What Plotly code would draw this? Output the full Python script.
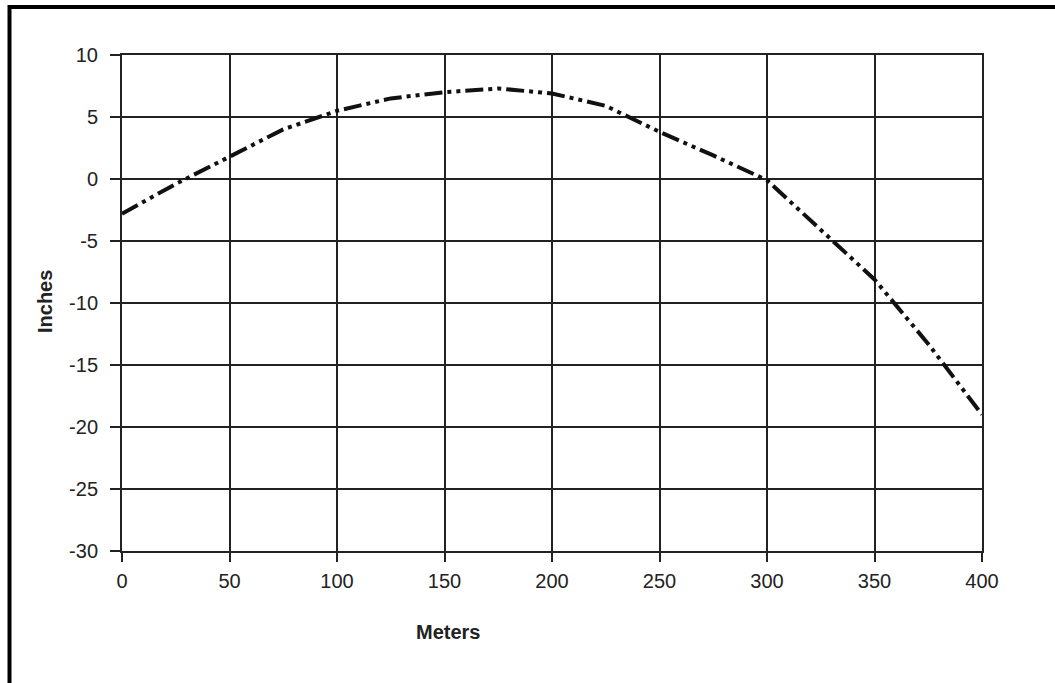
import plotly.graph_objects as go

# Trajectory data
meters = [0, 25, 50, 75, 100, 125, 150, 175, 200, 225, 250, 275, 300, 325, 350, 375, 400]
inches = [-2.8, -0.4, 1.8, 4.0, 5.5, 6.5, 7.0, 7.3, 6.9, 5.9, 3.8, 1.9, -0.1, -4.1, -8.1, -13.3, -19.0]

x_ticks = [0, 50, 100, 150, 200, 250, 300, 350, 400]
x_tick_labels = ['0', '50', '100', '150', '200', '250', '300', '350', '400']
y_ticks = [10, 5, 0, -5, -10, -15, -20, -25, -30]
y_tick_labels = ['10', '5', '0', '-5', '-10', '-15', '-20', '-25', '-30']

W, H = 1055, 683
L, R, T, B = 122, 73, 55, 132
pw, ph = W - L - R, H - T - B
FONT = 'Liberation Sans, Arial'


def px_x(p):
    return (p - L) / pw


def px_y(p):
    return (H - B - p) / ph


fig = go.Figure()
fig.add_trace(go.Scatter(
    x=meters, y=inches, mode='lines',
    line=dict(color='#111', width=4, dash='18px,5px,4px,5px,4px,5px'),
    showlegend=False, hoverinfo='skip'
))

axis_common = dict(
    showgrid=True, gridcolor='#222', gridwidth=2,
    zeroline=False, showline=True, mirror=True,
    linecolor='#222', linewidth=2,
    ticks='outside', tickcolor='#222', tickwidth=2,
    tickfont=dict(family=FONT, size=20, color='#222'),
)

fig.update_xaxes(range=[0, 400], tickvals=x_ticks, ticktext=x_tick_labels,
                 ticklen=9, ticklabelstandoff=2, **axis_common)
fig.update_yaxes(range=[-30, 10], tickvals=y_ticks, ticktext=y_tick_labels,
                 ticklen=10, ticklabelstandoff=8, **axis_common)

# outer frame, partially cut off on the right and bottom
fig.add_shape(type='rect', xref='paper', yref='paper',
              x0=px_x(9.5), x1=px_x(1070), y0=px_y(700), y1=px_y(7),
              line=dict(color='black', width=4), layer='above')

fig.add_annotation(text='<b>Meters</b>', xref='paper', yref='paper',
                   x=px_x(448), y=px_y(632), xanchor='center', yanchor='middle',
                   showarrow=False,
                   font=dict(family=FONT, size=20, color='#222'))
fig.add_annotation(text='<b>Inches</b>', xref='paper', yref='paper',
                   x=px_x(45), y=px_y(302), xanchor='center', yanchor='middle',
                   showarrow=False, textangle=-90,
                   font=dict(family=FONT, size=20, color='#222'))

fig.update_layout(
    width=W, height=H,
    margin=dict(l=L, r=R, t=T, b=B),
    paper_bgcolor='white', plot_bgcolor='white',
)

fig.write_html("out.html", config={'displayModeBar': False},
               post_script="document.body.style.margin='0';")
